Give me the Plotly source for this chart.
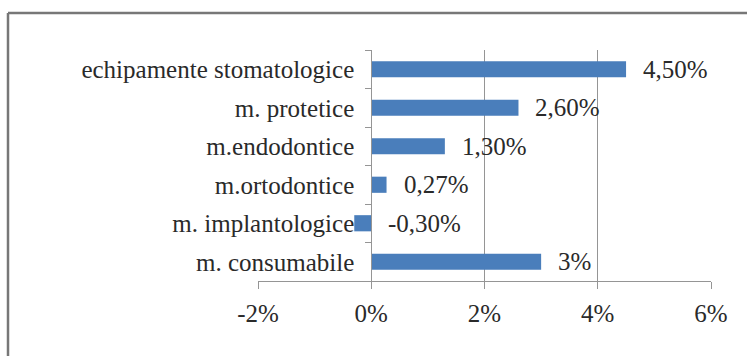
import plotly.graph_objects as go

categories = ["echipamente stomatologice", "m. protetice", "m.endodontice",
              "m.ortodontice", "m. implantologice", "m. consumabile"]
values = [4.5, 2.6, 1.3, 0.27, -0.3, 3.0]
value_labels = ["4,50%", "2,60%", "1,30%", "0,27%", "-0,30%", "3%"]
x_ticks = [-2, 0, 2, 4, 6]
x_tick_labels = ["-2%", "0%", "2%", "4%", "6%"]

FONT = "'Liberation Serif', 'Times New Roman', Times, serif"
TXT = "#2a2a2a"
GRID = "#959595"

fig = go.Figure()
fig.add_trace(go.Bar(
    x=values, y=categories, orientation="h",
    marker=dict(color="#4a7ebb", line=dict(width=0)),
    width=0.42, hoverinfo="skip",
))

for v, c, t in zip(values, categories, value_labels):
    fig.add_annotation(x=max(v, 0), y=c, text=t, showarrow=False,
                       xanchor="left", xshift=15, yshift=0,
                       font=dict(family=FONT, size=25, color=TXT))

W, H = 747, 356
ml, mr, mt, mb = 258, 36, 50, 75
pw, ph = W - ml - mr, H - mt - mb

def px_x(p):
    return (p - ml) / pw

def px_y(p):
    return (H - mb - p) / ph

# outer frame (left and top edges only visible)
fig.add_shape(type="line", xref="paper", yref="paper",
              x0=px_x(8), x1=px_x(8), y0=px_y(13), y1=px_y(360),
              line=dict(color="#777777", width=2.5))
fig.add_shape(type="line", xref="paper", yref="paper",
              x0=px_x(8), x1=px_x(760), y0=px_y(13), y1=px_y(13),
              line=dict(color="#777777", width=2.5))

fig.update_layout(
    width=W, height=H,
    margin=dict(l=ml, r=mr, t=mt, b=mb, autoexpand=False),
    plot_bgcolor="white", paper_bgcolor="white",
    showlegend=False,
    font=dict(family=FONT, size=25, color=TXT),
    xaxis=dict(range=[-2, 6], tickvals=x_ticks, ticktext=x_tick_labels,
               showgrid=True, gridcolor=GRID, gridwidth=1,
               zeroline=False, showline=True, linecolor=GRID, linewidth=1,
               mirror=False, ticks="outside", ticklen=7, tickcolor=GRID,
               ticklabelstandoff=3,
               tickfont=dict(family=FONT, size=25, color=TXT)),
    yaxis=dict(categoryorder="array", categoryarray=categories,
               autorange="reversed", anchor="free", position=0.25,
               showgrid=False, zeroline=False, showline=True,
               linecolor=GRID, linewidth=1, ticks="outside", ticklen=6,
               tickcolor=GRID, tickson="boundaries", ticklabelstandoff=12,
               tickfont=dict(family=FONT, size=25, color=TXT)),
)

fig.write_html("out.html")
